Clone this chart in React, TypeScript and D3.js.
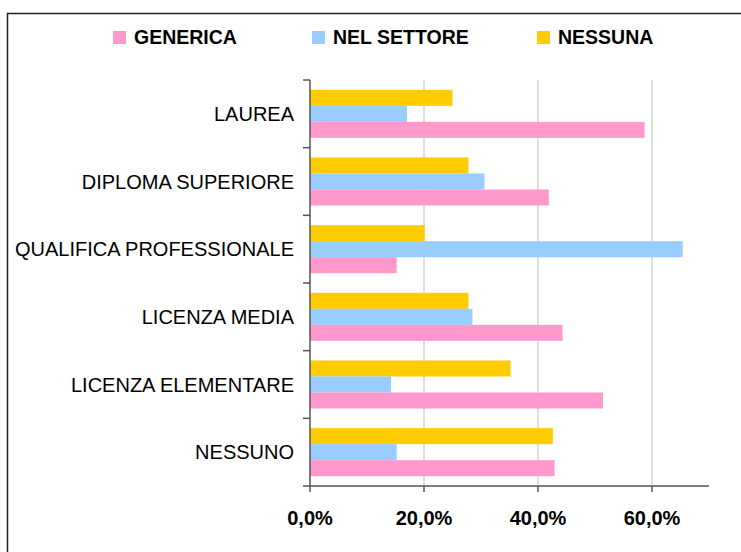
import React, { useEffect, useRef } from 'react';
import * as d3 from 'd3';

const categories = [
  'LAUREA',
  'DIPLOMA SUPERIORE',
  'QUALIFICA PROFESSIONALE',
  'LICENZA MEDIA',
  'LICENZA ELEMENTARE',
  'NESSUNO',
];

const seriesNames = ['GENERICA', 'NEL SETTORE', 'NESSUNA'];
const seriesColors = ['#FF99CC', '#99CCFF', '#FFCC00'];

const generica = [58.7, 41.9, 15.2, 44.3, 51.4, 42.9];
const nelSettore = [17.0, 30.6, 65.4, 28.5, 14.2, 15.2];
const nessuna = [25.0, 27.8, 20.1, 27.8, 35.2, 42.6];

const xTicks = [0, 20, 40, 60];

const FONT = '"Liberation Sans", Arial, sans-serif';

function App() {
  const svgRef = useRef(null);

  useEffect(() => {
    const svg = d3.select(svgRef.current);
    svg.selectAll('*').remove();

    const plot = { left: 310, right: 709, top: 80, bottom: 486 };

    // outer frame (cut off at right and bottom like the original)
    svg.append('rect')
      .attr('x', 7.5)
      .attr('y', 13.5)
      .attr('width', 760)
      .attr('height', 560)
      .attr('fill', '#fff')
      .attr('stroke', '#222')
      .attr('stroke-width', 1.5);

    const x = d3.scaleLinear().domain([0, 70]).range([plot.left, plot.right]);
    const y = d3.scaleBand()
      .domain(categories)
      .range([plot.top, plot.bottom])
      .paddingInner(0.29)
      .paddingOuter(0.145);

    // top-to-bottom order inside a group: NESSUNA, NEL SETTORE, GENERICA
    const order = ['NESSUNA', 'NEL SETTORE', 'GENERICA'];
    const inner = d3.scaleBand().domain(order).range([0, y.bandwidth()]);

    const values = { 'GENERICA': generica, 'NEL SETTORE': nelSettore, 'NESSUNA': nessuna };
    const color = d3.scaleOrdinal().domain(seriesNames).range(seriesColors);

    // gridlines
    svg.append('g')
      .selectAll('line')
      .data(xTicks.filter(t => t > 0))
      .enter().append('line')
      .attr('x1', d => x(d))
      .attr('x2', d => x(d))
      .attr('y1', plot.top)
      .attr('y2', plot.bottom)
      .attr('stroke', '#d4d4d4')
      .attr('stroke-width', 1.5);

    // bars
    categories.forEach((cat, i) => {
      const g = svg.append('g').attr('transform', `translate(0,${y(cat)})`);
      order.forEach(s => {
        g.append('rect')
          .attr('x', x(0))
          .attr('y', inner(s))
          .attr('width', x(values[s][i]) - x(0))
          .attr('height', inner.bandwidth())
          .attr('fill', color(s));
      });
    });

    // y axis
    const yAxis = svg.append('g');
    yAxis.append('line')
      .attr('x1', plot.left).attr('x2', plot.left)
      .attr('y1', plot.top).attr('y2', plot.bottom)
      .attr('stroke', '#555').attr('stroke-width', 1.5);
    const step = y.step();
    yAxis.selectAll('.ytick')
      .data(d3.range(categories.length + 1))
      .enter().append('line')
      .attr('class', 'ytick')
      .attr('x1', plot.left - 7).attr('x2', plot.left)
      .attr('y1', d => plot.top + d * step)
      .attr('y2', d => plot.top + d * step)
      .attr('stroke', '#555').attr('stroke-width', 1.5);
    yAxis.selectAll('text')
      .data(categories)
      .enter().append('text')
      .attr('x', 294)
      .attr('y', d => y(d) + y.bandwidth() / 2)
      .attr('dy', '0.35em')
      .attr('text-anchor', 'end')
      .attr('font-family', FONT)
      .attr('font-size', 20)
      .attr('fill', '#000')
      .text(d => d);

    // x axis
    const xAxis = svg.append('g');
    xAxis.append('line')
      .attr('x1', plot.left).attr('x2', plot.right)
      .attr('y1', plot.bottom).attr('y2', plot.bottom)
      .attr('stroke', '#555').attr('stroke-width', 1.5);
    xAxis.selectAll('.xtick')
      .data(xTicks)
      .enter().append('line')
      .attr('class', 'xtick')
      .attr('x1', d => x(d)).attr('x2', d => x(d))
      .attr('y1', plot.bottom).attr('y2', plot.bottom + 6)
      .attr('stroke', '#555').attr('stroke-width', 1.5);
    xAxis.selectAll('text')
      .data(xTicks)
      .enter().append('text')
      .attr('x', d => x(d))
      .attr('y', 525)
      .attr('text-anchor', 'middle')
      .attr('font-family', FONT)
      .attr('font-size', 20)
      .attr('font-weight', 'bold')
      .attr('fill', '#000')
      .text(d => d.toFixed(1).replace('.', ',') + '%');

    // legend
    const legendX = [113, 312, 537];
    const legend = svg.append('g');
    seriesNames.forEach((s, i) => {
      legend.append('rect')
        .attr('x', legendX[i])
        .attr('y', 31)
        .attr('width', 13)
        .attr('height', 13)
        .attr('fill', color(s));
      legend.append('text')
        .attr('x', legendX[i] + 21)
        .attr('y', 44)
        .attr('font-family', FONT)
        .attr('font-size', 19.5)
        .attr('font-weight', 'bold')
        .attr('fill', '#000')
        .text(s);
    });
  }, []);

  return (
    <svg
      ref={svgRef}
      width={741}
      height={552}
      style={{ position: 'absolute', left: 0, top: 0, display: 'block' }}
    />
  );
}

export default App;
